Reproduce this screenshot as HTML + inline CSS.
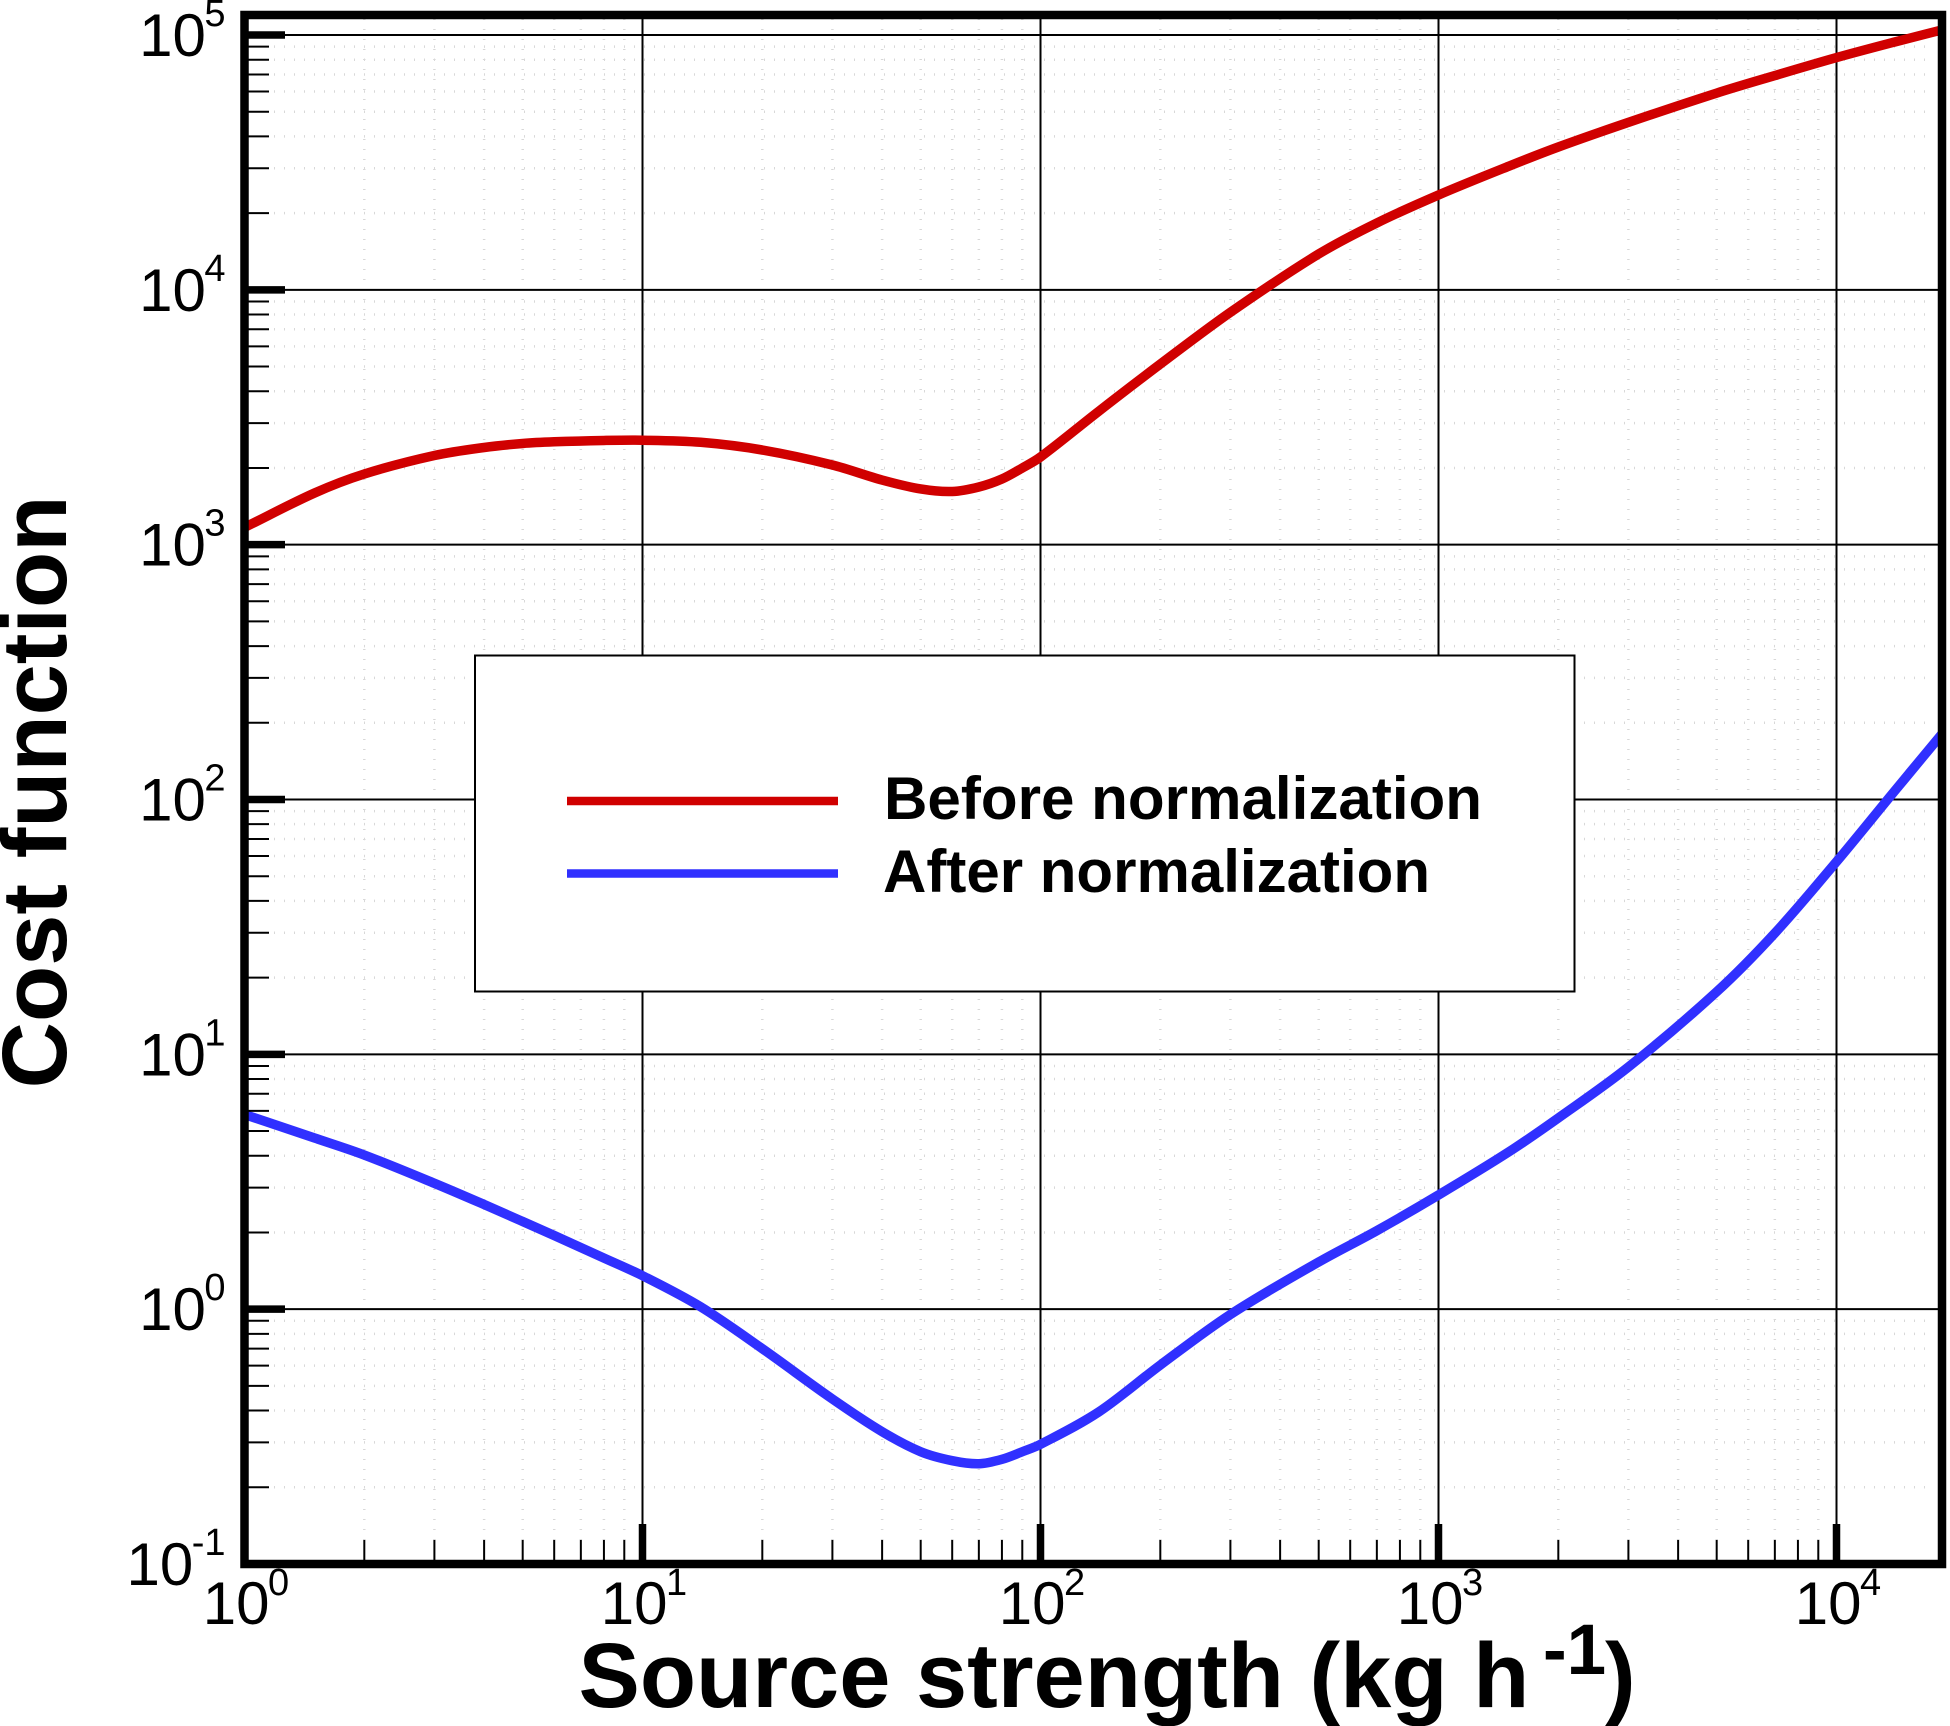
<!DOCTYPE html>
<html lang="en">
<head>
<meta charset="utf-8">
<title>Cost function vs source strength</title>
<style>
html,body{margin:0;padding:0;background:#fff;}
svg{display:block;font-family:"Liberation Sans",Arial,sans-serif;}
</style>
</head>
<body>
<svg id="chart" xmlns="http://www.w3.org/2000/svg" width="1950" height="1726" viewBox="0 0 1950 1726">
  <rect x="0" y="0" width="1950" height="1726" fill="#fff"/>
  <defs>
    <clipPath id="plot-clip"><rect x="244.5" y="15" width="1697.5" height="1549"/></clipPath>
  </defs>
  <g id="minor-grid"></g>
  <g id="major-grid"></g>
  <g id="series" clip-path="url(#plot-clip)"></g>
  <g id="legend">
    <rect x="475" y="655.5" width="1099.5" height="336" fill="#fff" stroke="#000" stroke-width="2"/>
    <line x1="567" y1="801" x2="838" y2="801" stroke="#d00000" stroke-width="8.5"/>
    <text x="884" y="819" font-size="60" font-weight="700" textLength="598" lengthAdjust="spacingAndGlyphs">Before normalization</text>
    <line x1="567" y1="873.5" x2="838" y2="873.5" stroke="#3030ff" stroke-width="8.5"/>
    <text x="883" y="892" font-size="60" font-weight="700" textLength="547" lengthAdjust="spacingAndGlyphs">After normalization</text>
  </g>
  <g id="ticks"></g>
  <rect x="244.5" y="15" width="1697.5" height="1549" fill="none" stroke="#000" stroke-width="8.5"/>
  <g id="tick-labels"></g>
  <text x="578.5" y="1707" font-size="92" font-weight="700">Source strength (kg h<tspan x="1543" dy="-33" font-size="71">-1</tspan><tspan x="1605" dy="33">)</tspan></text>
  <text transform="translate(66,792) rotate(-90)" text-anchor="middle" font-size="92" font-weight="700">Cost function</text>
</svg>
<script>
var strengthBefore = [1, 1.5, 2, 3, 4, 5, 6, 8, 10, 14, 20, 30, 40, 50, 60, 70, 80, 90, 100, 140, 200, 300, 500, 700, 1000, 1500, 2000, 3000, 5000, 7000, 10000, 14000, 18400];
var costBefore = [1168, 1595, 1894, 2238, 2406, 2495, 2533, 2564, 2570, 2522, 2352, 2054, 1793, 1654, 1617, 1684, 1810, 2000, 2208, 3336, 5112, 8161, 13824, 18298, 23563, 30535, 36350, 45394, 59156, 69296, 81527, 93866, 104700];
var strengthAfter = [1, 1.5, 2, 3, 4, 5, 6, 8, 10, 14, 20, 30, 40, 50, 60, 70, 80, 90, 100, 140, 200, 300, 500, 700, 1000, 1500, 2000, 3000, 5000, 7000, 10000, 14000, 18400];
var costAfter = [5.807, 4.694, 4.025, 3.118, 2.574, 2.208, 1.945, 1.587, 1.353, 1.021, 0.6995, 0.444, 0.3305, 0.2757, 0.2543, 0.2474, 0.2575, 0.2757, 0.2948, 0.3948, 0.6036, 0.953, 1.531, 2.032, 2.805, 4.136, 5.625, 8.916, 17.6, 29.9, 57, 108, 180.7];
var xDecades = [0, 1, 2, 3, 4];
var yDecades = [-1, 0, 1, 2, 3, 4, 5];
var minorMultipliers = [2, 3, 4, 5, 6, 7, 8, 9];

var NS = 'http://www.w3.org/2000/svg';
var PLOT_LEFT = 244.5, PLOT_RIGHT = 1942, PLOT_TOP = 15, PLOT_BOTTOM = 1564;
var X_DECADE = 398, Y_ORIGIN = 35, Y_DECADE = 254.83;

function xScale(v) { return PLOT_LEFT + X_DECADE * Math.log10(v); }
function yScale(v) { return Y_ORIGIN + Y_DECADE * (5 - Math.log10(v)); }

function make(tag, parent, attrs) {
  var el = document.createElementNS(NS, tag);
  for (var k in attrs) { el.setAttribute(k, attrs[k]); }
  parent.appendChild(el);
  return el;
}

function smoothPath(xs, ys) {
  var pts = xs.map(function (x, i) { return [xScale(x), yScale(ys[i])]; });
  var n = pts.length;
  var slopes = pts.map(function (p, i) {
    var a = pts[Math.max(i - 1, 0)], b = pts[Math.min(i + 1, n - 1)];
    return (b[1] - a[1]) / (b[0] - a[0]);
  });
  var d = 'M' + pts[0][0].toFixed(2) + ' ' + pts[0][1].toFixed(2);
  for (var i = 0; i < n - 1; i++) {
    var p1 = pts[i], p2 = pts[i + 1], h = (p2[0] - p1[0]) / 3;
    d += 'C' + (p1[0] + h).toFixed(2) + ' ' + (p1[1] + slopes[i] * h).toFixed(2) + ' ' + (p2[0] - h).toFixed(2) + ' ' + (p2[1] - slopes[i + 1] * h).toFixed(2) + ' ' + p2[0].toFixed(2) + ' ' + p2[1].toFixed(2);
  }
  return d;
}

var minorGrid = document.getElementById('minor-grid');
var majorGrid = document.getElementById('major-grid');
var ticks = document.getElementById('ticks');
var labels = document.getElementById('tick-labels');
var series = document.getElementById('series');

xDecades.forEach(function (dec) {
  var x = xScale(Math.pow(10, dec));
  if (dec > 0) {
    var grid = make('line', majorGrid, { x1: x, y1: PLOT_TOP, x2: x, y2: PLOT_BOTTOM, stroke: '#000', 'stroke-width': 2 });
    
    
    var major = make('line', ticks, { x1: x, y1: 1524, x2: x, y2: 1562, stroke: '#000', 'stroke-width': 7.5 });
    
    
  }
  minorMultipliers.forEach(function (m) {
    var v = m * Math.pow(10, dec);
    var mx = xScale(v);
    if (mx >= PLOT_RIGHT) { return; }
    var dots = make('line', minorGrid, { x1: mx, y1: 19, x2: mx, y2: 1540, stroke: '#d8d8d8', 'stroke-width': 2.5, 'stroke-dasharray': '1 9' });
    
    
    var minor = make('line', ticks, { x1: mx, y1: 1540, x2: mx, y2: 1562, stroke: '#000', 'stroke-width': 2 });
    
    
  });
  var label = make('text', labels, { x: x + 1.5, y: 1624, 'text-anchor': 'middle', 'font-size': 60 });
  
  
  label.textContent = '10';
  var sup = make('tspan', label, { dx: -1.5, dy: -29, 'font-size': 38 });
  
  
  sup.textContent = String(dec);
});

yDecades.forEach(function (dec) {
  var y = yScale(Math.pow(10, dec));
  if (dec > -1) {
    var grid = make('line', majorGrid, { x1: PLOT_LEFT, y1: y, x2: PLOT_RIGHT, y2: y, stroke: '#000', 'stroke-width': 2 });
    
    
    var major = make('line', ticks, { x1: 247, y1: y, x2: 285, y2: y, stroke: '#000', 'stroke-width': 7.5 });
    
    
  }
  if (dec < 5) {
    minorMultipliers.forEach(function (m) {
      var my = yScale(m * Math.pow(10, dec));
      var dots = make('line', minorGrid, { x1: 274, y1: my, x2: 1932, y2: my, stroke: '#d8d8d8', 'stroke-width': 2.5, 'stroke-dasharray': '1 9' });
      
      
      var minor = make('line', ticks, { x1: 247, y1: my, x2: 269, y2: my, stroke: '#000', 'stroke-width': 2 });
      
      
    });
  }
  var label = make('text', labels, { x: 225.5, y: y + 21, 'text-anchor': 'end', 'font-size': 60 });
  
  
  label.textContent = '10';
  var sup = make('tspan', label, { dx: -1.5, dy: -30, 'font-size': 38 });
  
  
  sup.textContent = String(dec);
});

var beforeLine = make('path', series, { d: smoothPath(strengthBefore, costBefore), fill: 'none', stroke: '#d00000', 'stroke-width': 9.5 });



var afterLine = make('path', series, { d: smoothPath(strengthAfter, costAfter), fill: 'none', stroke: '#3030ff', 'stroke-width': 9.5 });


</script>
</body>
</html>
